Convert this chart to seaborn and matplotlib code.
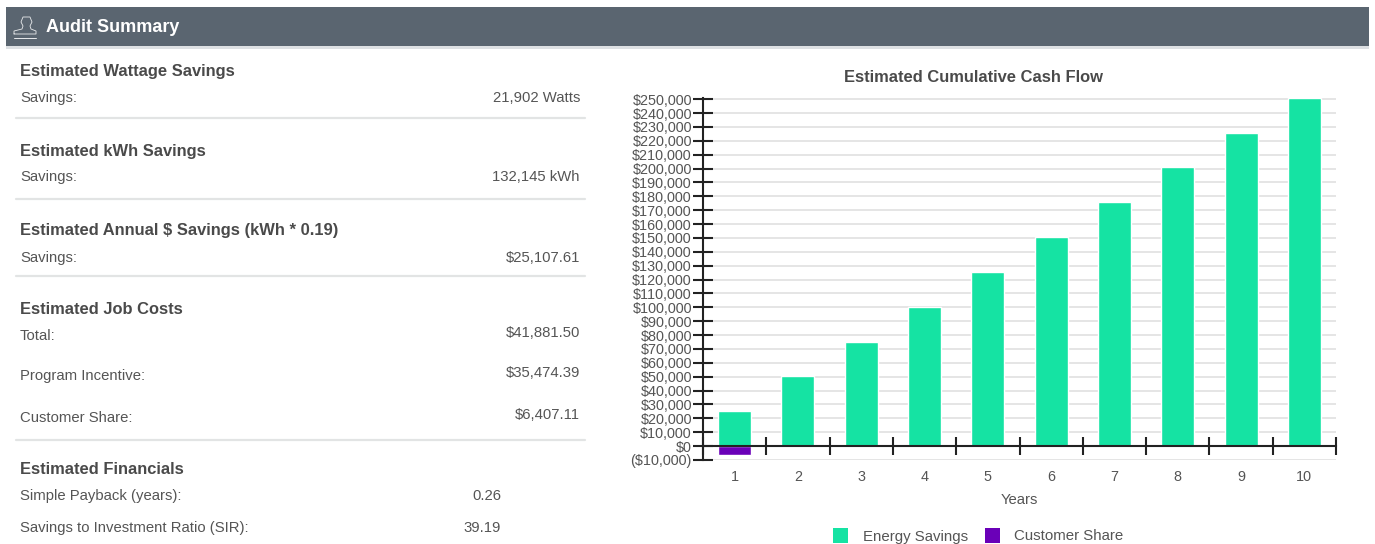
import pandas as pd
import matplotlib.pyplot as plt
import seaborn as sns
from matplotlib.patches import Rectangle
from matplotlib.lines import Line2D
from matplotlib.ticker import FixedLocator

years = ['1', '2', '3', '4', '5', '6', '7', '8', '9', '10']
energy_savings = [25108, 50215, 75323, 100430, 125538, 150646, 175753, 200861, 225968, 251076]
customer_share = [-6407, 0, 0, 0, 0, 0, 0, 0, 0, 0]
y_ticks = list(range(-10000, 260000, 10000))

left_headings = ['Estimated Wattage Savings', 'Estimated kWh Savings',
                 'Estimated Annual $ Savings (kWh * 0.19)', 'Estimated Job Costs',
                 'Estimated Financials']
heading_y = [71.5, 151.5, 231, 309.5, 469]
row_labels = ['Savings:', 'Savings:', 'Savings:', 'Total:', 'Program Incentive:', 'Customer Share:']
row_values = ['21,902 Watts', '132,145 kWh', '$25,107.61', '$41,881.50', '$35,474.39', '$6,407.11']
row_label_y = [98, 177, 258, 336, 376, 418]
row_value_y = [98, 177, 258, 333, 373, 415]
fin_labels = ['Simple Payback (years):', 'Savings to Investment Ratio (SIR):']
fin_values = ['0.26', '39.19']
fin_y = [496, 528]
divider_y = [118, 199, 276, 440]

W, H = 1375, 544
GREEN = '#15e3a3'
PURPLE = '#6a00b8'
TEXT = '#555555'

sns.set_theme(style='white')
plt.rcParams['font.family'] = ['Liberation Sans', 'DejaVu Sans']


def fx(x):
    return x / W


def fy(y):
    return 1 - y / H


def label(fig, x, y, s, **kw):
    kw.setdefault('color', TEXT)
    kw.setdefault('fontsize', 10.7)
    fig.text(fx(x), fy(y), s, va='center', **kw)


def draw_panel(fig):
    fig.add_artist(Rectangle((fx(6), fy(46)), fx(1363), 39 / H, color='#5a6570', lw=0))
    fig.add_artist(Rectangle((fx(6), fy(48.5)), fx(1363), 2.5 / H, color='#dde0e3', lw=0))
    # stamp icon
    fig.add_artist(Line2D([fx(14), fx(36)], [fy(38), fy(38)], color='#e8eaec', lw=0.7))
    fig.add_artist(Line2D([fx(14), fx(14), fx(22), fx(23), fx(21), fx(23), fx(30), fx(32), fx(30), fx(31), fx(36), fx(36), fx(14)],
                          [fy(34), fy(31), fy(29), fy(26), fy(22), fy(17), fy(17), fy(22), fy(26), fy(29), fy(31), fy(34), fy(34)],
                          color='#e8eaec', lw=0.6))
    label(fig, 46, 27, 'Audit Summary', color='white', fontsize=13, fontweight='bold')

    for s, y in zip(left_headings, heading_y):
        label(fig, 20, y, s, fontsize=11.9, fontweight='bold', color='#4a4a4a')
    for s, y in zip(row_labels, row_label_y):
        label(fig, 20, y, s)
    for s, y in zip(row_values, row_value_y):
        label(fig, 580, y, s, ha='right')
    for s, v, y in zip(fin_labels, fin_values, fin_y):
        label(fig, 20, y, s)
        label(fig, 501, y, v, ha='right')
    for y in divider_y:
        fig.add_artist(Line2D([fx(16), fx(585)], [fy(y), fy(y)], color='#e2e4e4', lw=1.6))


def money(v):
    return f'(${-v:,})' if v < 0 else f'${v:,}'


def plot_cash_flow(fig):
    ax = fig.add_axes([fx(703), fy(460), fx(633), (460 - 97.5) / H])
    df = pd.DataFrame({
        'Years': years * 2,
        'Value': energy_savings + customer_share,
        'Series': ['Energy Savings'] * 10 + ['Customer Share'] * 10,
    })
    sns.barplot(data=df, x='Years', y='Value', hue='Series', dodge=False, width=0.52,
                palette={'Energy Savings': GREEN, 'Customer Share': PURPLE},
                saturation=1, legend=False, ax=ax, zorder=3)
    ax.set_xlim(-0.5, 9.5)
    ax.set_ylim(-10000, 251200)

    ax.set_yticks(y_ticks)
    ax.set_yticklabels([money(v) for v in y_ticks], fontsize=10.4, color=TEXT)
    ax.yaxis.set_tick_params(direction='inout', length=14, width=1.5, color='#222222', left=True, pad=1)
    ax.yaxis.grid(True, color='#e0e0e0', lw=1.2, zorder=0)
    ax.set_axisbelow(True)

    ax.spines[['top', 'right']].set_visible(False)
    ax.spines['bottom'].set_position(('data', 0))
    ax.spines['bottom'].set_color('#222222')
    ax.spines['bottom'].set_linewidth(1.5)
    ax.spines['bottom'].set_zorder(5)
    ax.spines['left'].set_color('#222222')
    ax.spines['left'].set_linewidth(1.5)
    ax.xaxis.set_minor_locator(FixedLocator([i - 0.5 for i in range(11)]))
    ax.tick_params(axis='x', which='minor', direction='inout', length=13, width=1.5,
                   color='#222222', bottom=True)
    ax.tick_params(axis='x', which='major', length=0, pad=17, labelsize=10.4, labelcolor=TEXT, bottom=True)

    ax.set_xlabel('')
    ax.set_ylabel('')
    label(fig, 973.5, 77.5, 'Estimated Cumulative Cash Flow', ha='center', fontsize=11.9,
          fontweight='bold', color='#4a4a4a')
    label(fig, 1019.5, 499.5, 'Years', ha='center', fontsize=10.7)

    # legend
    fig.add_artist(Rectangle((fx(833), fy(543)), 15 / W, 15 / H, color=GREEN, lw=0))
    label(fig, 863, 536.5, 'Energy Savings', fontsize=10.8)
    fig.add_artist(Rectangle((fx(985), fy(543)), 15 / W, 15 / H, color=PURPLE, lw=0))
    label(fig, 1014, 536.5, 'Customer Share', fontsize=10.8)


if __name__ == "__main__":
    fig = plt.figure(figsize=(W / 100, H / 100), dpi=100, facecolor='white')
    draw_panel(fig)
    plot_cash_flow(fig)
    fig.savefig('out.png', dpi=100)
